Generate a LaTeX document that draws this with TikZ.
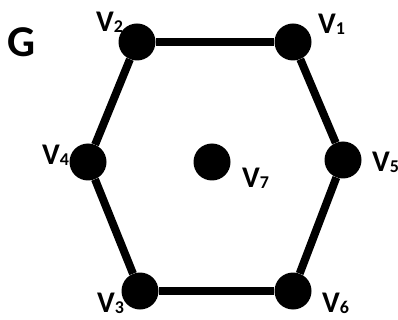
\documentclass[tikz,border=0pt]{standalone}
\usepackage{fontspec}
\setmainfont{Carlito}
\usepackage{tikz}
\usetikzlibrary{positioning}

\newcommand{\vname}[1]{V\raisebox{-1pt}{\fontsize{18}{18}\selectfont #1}}

\begin{document}
\begin{tikzpicture}[x=1pt,y=-1pt,
  vtx/.style={circle,fill=black,inner sep=0pt,minimum size=37pt},
  lab/.style={anchor=base west,inner sep=0pt,font=\fontsize{30}{30}\selectfont\bfseries},
  edge/.style={line width=8pt}]
\useasboundingbox (0,0) rectangle (398,320);
\node[vtx] (v1) at (293,42) {};
\node[vtx] (v2) at (137,42) {};
\node[vtx] (v3) at (140,291) {};
\node[vtx] (v4) at (88,162) {};
\node[vtx] (v5) at (343,160) {};
\node[vtx] (v6) at (293,291) {};
\node[vtx] (v7) at (212,162) {};
\draw[edge] (v2)--(v1); \draw[edge] (v1)--(v5); \draw[edge] (v5)--(v6);
\draw[edge] (v6)--(v3); \draw[edge] (v3)--(v4); \draw[edge] (v4)--(v2);
\node[lab] (l1) at (318,34) {\vname{1}};
\node[lab] (l2) at (96,32) {\vname{2}};
\node[lab] (l3) at (97,312) {\vname{3}};
\node[lab] (l4) at (42,165) {\vname{4}};
\node[lab] (l5) at (372,172) {\vname{5}};
\node[lab] (l6) at (322,312) {\vname{6}};
\node[lab] (l7) at (242,188) {\vname{7}};
\node[lab,font=\fontsize{44}{44}\selectfont\bfseries] (g) at (7,57) {G};
\end{tikzpicture}
\end{document}
